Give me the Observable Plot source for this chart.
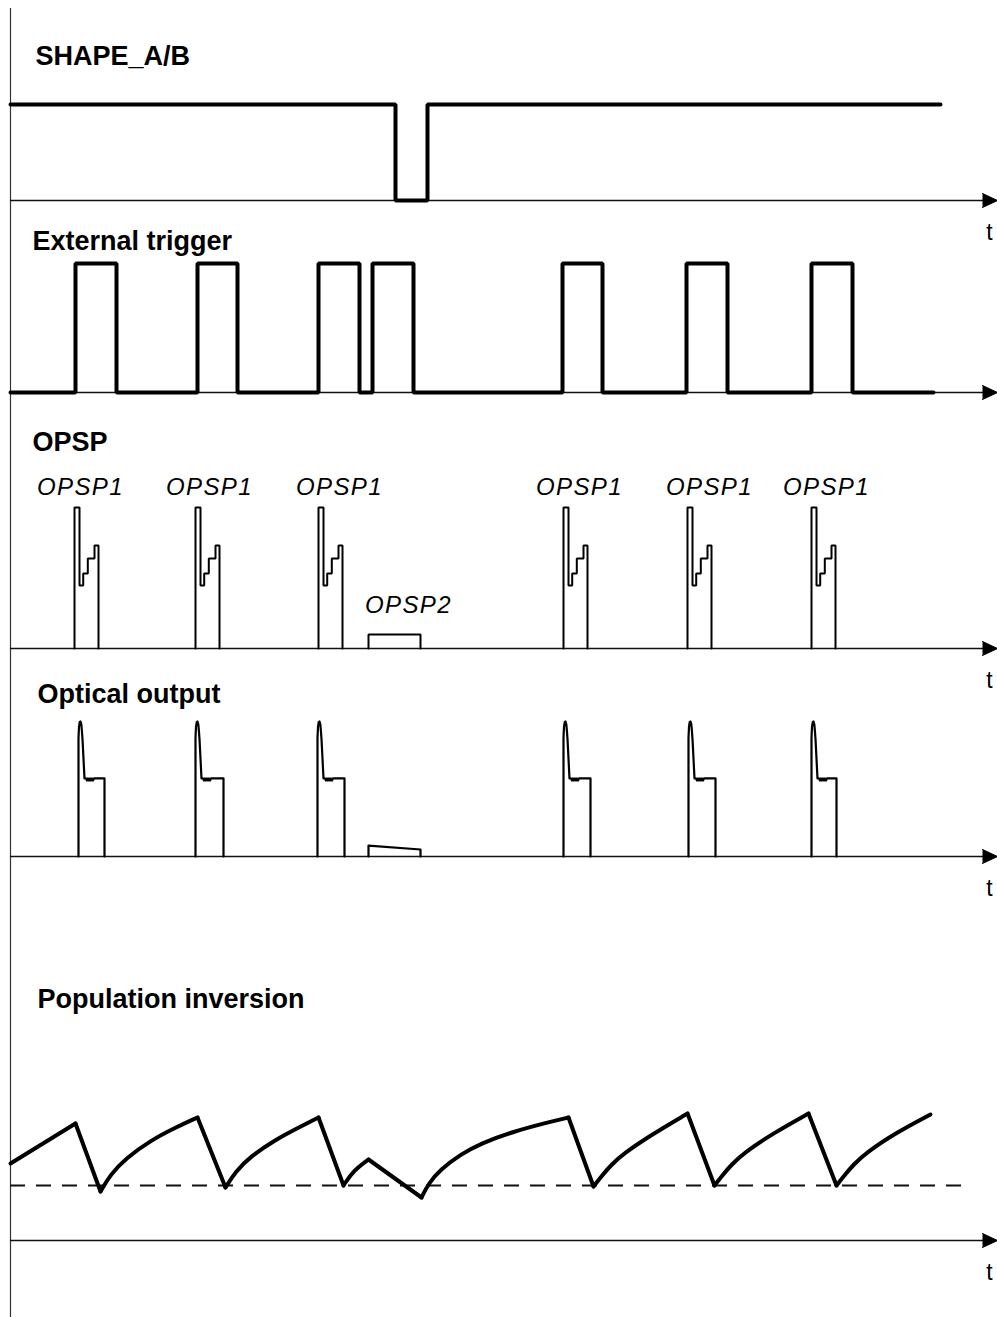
<!DOCTYPE html>
<html><head><meta charset="utf-8">
<script src="https://cdn.jsdelivr.net/npm/d3@7"></script>
<script src="https://cdn.jsdelivr.net/npm/@observablehq/plot@0.6"></script>
<style>
html,body{margin:0;padding:0;background:#fff;}
#chart svg{display:block;}
</style></head><body><div id="chart"></div>
<script>
// ================= DATA (time in arbitrary units, levels normalised) =================
const panelTitles = ["SHAPE_A/B", "External trigger", "OPSP", "Optical output", "Population inversion"];
const axisLabel = "t";

// SHAPE_A/B: high except for one short low window
const shapeStart = 10, shapeEnd = 940;
const shapeLowFrom = 395, shapeLowTo = 427;

// External trigger pulses
const triggerRise = [75, 197, 318, 372, 562, 686, 811];
const triggerFall = [116, 237, 359, 413, 602, 727, 852];
const triggerEnd = 933;

// OPSP1 pulses (start times) and their profile (offset, level)
const opsp1Start = [74, 195, 318, 563, 687, 811];
const opsp1Labels = ["OPSP1", "OPSP1", "OPSP1", "OPSP1", "OPSP1", "OPSP1"];
const opsp1Dt    = [0, 0, 5, 5, 8.7, 8.7, 13.3, 13.3, 20, 20, 24, 24];
const opsp1Level = [0, 1, 1, 0.447, 0.447, 0.532, 0.532, 0.638, 0.638, 0.73, 0.73, 0];
// OPSP2 pulse
const opsp2Label = "OPSP2";
const opsp2From = 368, opsp2To = 420, opsp2Level = 0.1;

// Optical output pulses
const opticalStart = [78, 195, 317, 563, 688, 811];
const opticalEnd   = [104, 223, 344, 590, 715, 836];
const opticalDt    = [0, 0, 0.5, 1.2, 2.0, 2.8, 3.4, 4.0, 6.0, 7.5, 8.5, 9.5, 10.5, 11.5, 12.5, 13.5, 14.5, 15.5, 17];
const opticalLevel = [0, 0.88, 0.96, 0.995, 1.0, 0.98, 0.93, 0.87, 0.578, 0.578, 0.563, 0.578, 0.563, 0.578, 0.563, 0.578, 0.563, 0.578, 0.578];
const opticalOpsp2Level = [0.081, 0.052];

// Population inversion: linear segments (peaks -> troughs) and recovery curves
const popThreshold = 55;
const popLinearT = [[10, 75], [75, 100], [197, 225], [318, 343], [368, 421], [568, 593], [687, 714], [808, 836]];
const popLinearN = [[77, 117], [117, 49], [123, 53], [123, 55], [81, 43], [123, 54], [127, 55], [127, 55]];
const popRiseT = [
  [100, 110, 125, 150, 175, 197],
  [225, 235, 250, 275, 300, 318],
  [343, 353, 368],
  [421, 428, 440, 460, 480, 513, 547, 568],
  [593, 600, 610, 623, 653, 687],
  [714, 721, 731, 744, 774, 808],
  [836, 843, 853, 866, 896, 930]
];
const popRiseN = [
  [49, 66, 82, 100, 113, 123],
  [53, 69, 84, 101, 114, 123],
  [55, 70, 81],
  [43, 57, 71, 86, 97, 109, 118, 123],
  [54, 63, 75, 87, 107, 127],
  [55, 64, 76, 88, 108, 127],
  [55, 64, 76, 88, 108, 126]
];

// ================= LAYOUT =================
const W = 997, H = 1317;
const originT = 10, axisEndT = 983, arrowTipT = 997;
const panels = {
  shape: {base: 200, amp: 96},
  trig:  {base: 392, amp: 129},
  opsp:  {base: 648, amp: 141},
  opt:   {base: 856, amp: 135},
  pop:   {base: 1240, amp: 1}
};
const yOf = (p, v) => panels[p].base - v * panels[p].amp;

// ================= TABLES =================
const shapeRows = [[shapeStart,1],[shapeLowFrom,1],[shapeLowFrom,0],[shapeLowTo,0],[shapeLowTo,1],[shapeEnd,1]]
  .map(([t, v]) => ({t, y: yOf("shape", v)}));

const trigRows = [{t: originT, y: yOf("trig", 0)}];
triggerRise.forEach((r, i) => {
  const f = triggerFall[i];
  trigRows.push({t: r, y: yOf("trig", 0)}, {t: r, y: yOf("trig", 1)}, {t: f, y: yOf("trig", 1)}, {t: f, y: yOf("trig", 0)});
});
trigRows.push({t: triggerEnd, y: yOf("trig", 0)});

const opspRows = [];
opsp1Start.forEach((s, k) => opsp1Dt.forEach((d, j) => opspRows.push({t: s + d, y: yOf("opsp", opsp1Level[j]), z: "opsp1-" + k})));
[[opsp2From,0],[opsp2From,opsp2Level],[opsp2To,opsp2Level],[opsp2To,0]].forEach(([t, v]) => opspRows.push({t, y: yOf("opsp", v), z: "opsp2"}));

const optRows = [];
opticalStart.forEach((s, k) => {
  opticalDt.forEach((d, j) => optRows.push({t: s + d, y: yOf("opt", opticalLevel[j]), z: "opt1-" + k}));
  optRows.push({t: opticalEnd[k], y: yOf("opt", opticalLevel[opticalLevel.length - 1]), z: "opt1-" + k});
  optRows.push({t: opticalEnd[k], y: yOf("opt", 0), z: "opt1-" + k});
});
[[opsp2From,0],[opsp2From,opticalOpsp2Level[0]],[opsp2To,opticalOpsp2Level[1]],[opsp2To,0]].forEach(([t, v]) => optRows.push({t, y: yOf("opt", v), z: "opt2"}));

const popLinRows = [];
popLinearT.forEach((ts, k) => ts.forEach((t, j) => popLinRows.push({t, y: yOf("pop", popLinearN[k][j]), z: k})));
const popRiseRows = [];
popRiseT.forEach((ts, k) => ts.forEach((t, j) => popRiseRows.push({t, y: yOf("pop", popRiseN[k][j]), z: k})));

const axisRows = ["shape", "trig", "opsp", "opt", "pop"].map(p => ({y: panels[p].base}));
const arrowRows = [];
axisRows.forEach((a, k) => {
  arrowRows.push({t: axisEndT - 1, y: a.y - 7, z: k}, {t: arrowTipT, y: a.y, z: k}, {t: axisEndT - 1, y: a.y + 7, z: k});
});

const titleRows = [
  {t: 35, y: 56, text: panelTitles[0]},
  {t: 32, y: 241, text: panelTitles[1]},
  {t: 32, y: 442, text: panelTitles[2]},
  {t: 37, y: 694, text: panelTitles[3]},
  {t: 37, y: 999, text: panelTitles[4]}
];
const opspLabelCenters = [80, 209, 339, 579, 709, 826];
const labelRows = opsp1Labels.map((s, i) => ({t: opspLabelCenters[i], y: 487, text: s}));
labelRows.push({t: 408, y: 605, text: opsp2Label});
const tRows = ["shape", "opsp", "opt", "pop"].map(p => ({t: 989, y: panels[p].base + 32, text: axisLabel}));

const font = "'Liberation Sans', Arial, Helvetica, sans-serif";
const ink = "#000";

const chart = Plot.plot({
  width: W, height: H,
  margin: 0,
  x: {domain: [0, W], range: [0, W], axis: null},
  y: {domain: [0, H], range: [0, H], axis: null},
  style: {background: "#fff"},
  marks: [
    // left time-origin line
    Plot.ruleX([originT], {y1: 8, y2: H, stroke: "#333", strokeWidth: 1.2}),
    // time axes
    Plot.ruleY(axisRows, {y: "y", x1: originT, x2: axisEndT, stroke: "#111", strokeWidth: 1.4}),
    Plot.line(arrowRows, {x: "t", y: "y", z: "z", fill: ink, stroke: ink, strokeWidth: 1}),
    // population threshold
    Plot.ruleY([yOf("pop", popThreshold)], {x1: originT, x2: 972, stroke: "#111", strokeWidth: 2, strokeDasharray: "15,11"}),
    // signals
    Plot.line(shapeRows, {x: "t", y: "y", stroke: ink, strokeWidth: 4, strokeLinejoin: "miter"}),
    Plot.line(trigRows, {x: "t", y: "y", stroke: ink, strokeWidth: 4, strokeLinejoin: "miter"}),
    Plot.line(opspRows, {x: "t", y: "y", z: "z", stroke: ink, strokeWidth: 2, strokeLinejoin: "miter"}),
    Plot.line(optRows, {x: "t", y: "y", z: "z", stroke: ink, strokeWidth: 2.2, strokeLinejoin: "round"}),
    Plot.line(popLinRows, {x: "t", y: "y", z: "z", stroke: ink, strokeWidth: 4, strokeLinecap: "round", strokeLinejoin: "round"}),
    Plot.line(popRiseRows, {x: "t", y: "y", z: "z", curve: "basis", stroke: ink, strokeWidth: 4, strokeLinecap: "round"}),
    // texts
    Plot.text(titleRows, {x: "t", y: "y", text: "text", textAnchor: "start", fontSize: 27, fontWeight: "bold", fontFamily: font, fill: ink}),
    Plot.text(labelRows, {x: "t", y: "y", text: "text", fontSize: 24, fontStyle: "italic", fontFamily: font, fill: ink}),
    Plot.text(tRows, {x: "t", y: "y", text: "text", fontSize: 23, fontFamily: font, fill: ink})
  ]
});
document.getElementById("chart").append(chart);
// widen the italic pulse labels slightly, like the reference lettering
chart.querySelectorAll("text").forEach(el => {
  if (/^OPSP\d$/.test(el.textContent)) el.style.letterSpacing = "1.4px";
});
</script></body></html>
